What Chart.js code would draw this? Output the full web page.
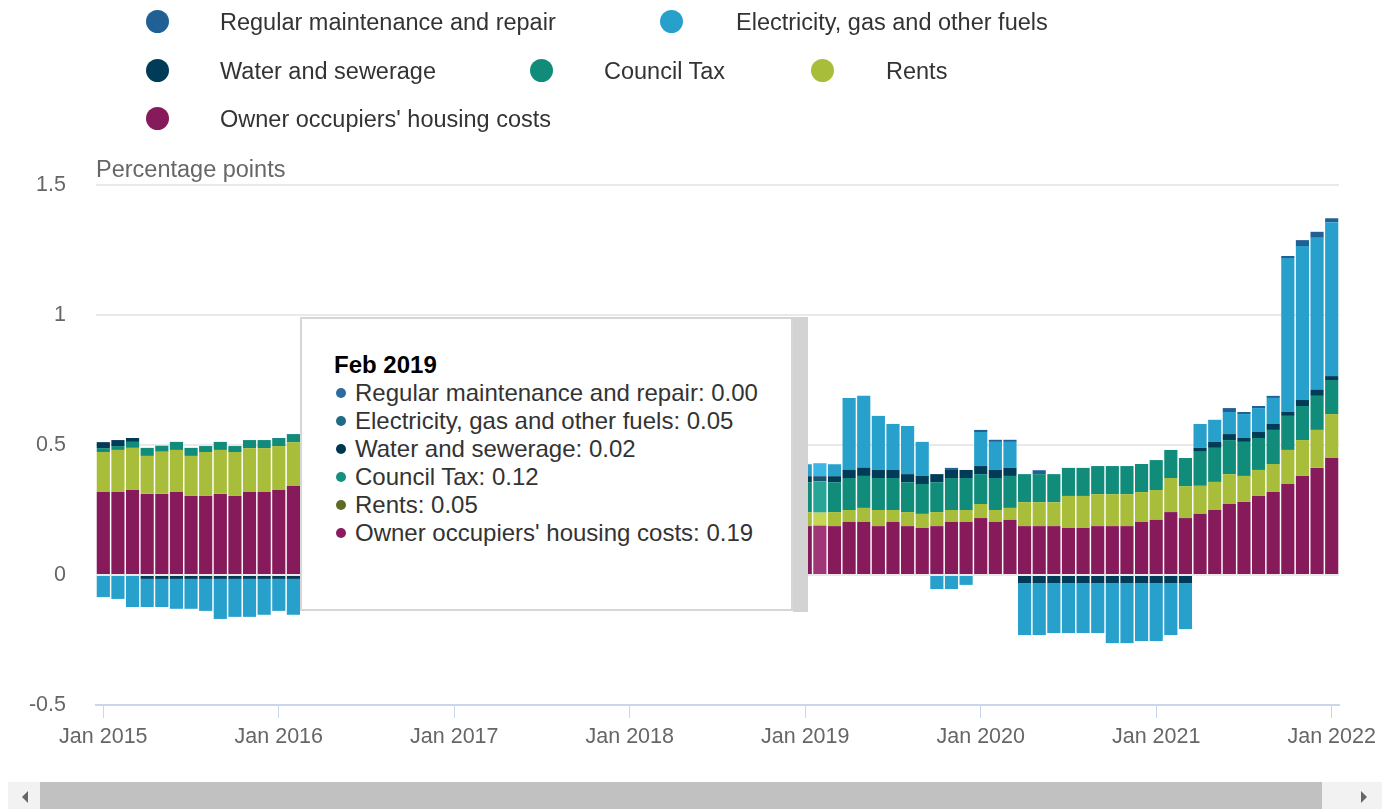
<!DOCTYPE html>
<html lang="en">
<head>
<meta charset="UTF-8">
<title>Contributions to CPIH housing</title>
<script src="https://cdn.jsdelivr.net/npm/chart.js"></script>
<style>
  body { margin: 0; background: #fff; font-family: "Liberation Sans", Arial, sans-serif; }
  #wrap { position: relative; width: 1395px; height: 810px; overflow: hidden; }
  #box { position: absolute; left: 0; top: 0; width: 1395px; height: 780px; }
  .leg { position: absolute; height: 30px; line-height: 30px; font-size: 23.5px; color: #333; white-space: nowrap; }
  #tip { position: absolute; left: 300px; top: 317px; width: 489px; height: 290px; background: #fff;
         border: 2px solid #d6d6d6; padding: 0; box-sizing: content-box; }
  #tipShade { position: absolute; left: 793px; top: 317px; width: 15px; height: 295px; background: #d3d3d4; }
  #tipText { position: absolute; left: 32px; top: 32px; font-size: 24px; line-height: 28px; color: #333; white-space: nowrap; }
  #tipText b { color: #000; }
  .dot { display: inline-block; width: 10px; height: 10px; border-radius: 5px; margin: 0 9px 0 2px; vertical-align: middle; position: relative; top: -2px; }
  #track { position: absolute; left: 8px; top: 782px; width: 1374px; height: 27px; background: #f2f2f2; }
  #thumb { position: absolute; left: 40px; top: 782px; width: 1282px; height: 27px; background: #c1c1c1; }
  .arr { position: absolute; top: 791px; width: 0; height: 0; border-top: 6px solid transparent; border-bottom: 6px solid transparent; }
</style>
</head>
<body>
<div id="wrap">
  <div id="box"><canvas id="grafica"></canvas></div>
  <div id="legend"></div>
  <div id="tip"><div id="tipText"></div></div>
  <div id="tipShade"></div>
  <div id="track"></div>
  <div id="thumb"></div>
  <div class="arr" style="left:22px; border-right:6px solid #666;"></div>
  <div class="arr" style="left:1361px; border-left:6px solid #666;"></div>
</div>

<script>
  // months Jan 2015 .. Jan 2022
  const monthNames = ['Jan', 'Feb', 'Mar', 'Apr', 'May', 'Jun', 'Jul', 'Aug', 'Sep', 'Oct', 'Nov', 'Dec'];
  const years = [2015, 2016, 2017, 2018, 2019, 2020, 2021];
  const categories = [];
  years.forEach(y => monthNames.forEach(m => categories.push(m + ' ' + y)));
  categories.push('Jan 2022');

  const yTicks = [-0.5, 0, 0.5, 1, 1.5];

  const owner = [
    0.319, 0.319, 0.327, 0.312, 0.312, 0.319, 0.304, 0.304, 0.312, 0.304, 0.319, 0.319,
    0.327, 0.342, 0.34, 0.34, 0.33, 0.34, 0.33, 0.33, 0.32, 0.32, 0.33, 0.32,
    0.31, 0.30, 0.30, 0.29, 0.28, 0.28, 0.27, 0.27, 0.26, 0.26, 0.25, 0.25,
    0.24, 0.23, 0.23, 0.22, 0.22, 0.21, 0.21, 0.21, 0.20, 0.20, 0.19, 0.19,
    0.188, 0.19, 0.188, 0.204, 0.204, 0.188, 0.204, 0.188, 0.181, 0.188, 0.204, 0.204,
    0.219, 0.204, 0.212, 0.188, 0.188, 0.188, 0.181, 0.181, 0.188, 0.188, 0.188, 0.204,
    0.212, 0.242, 0.219, 0.235, 0.25, 0.273, 0.281, 0.304, 0.319, 0.35, 0.381, 0.412,
    0.45
  ];
  const rents = [
    0.154, 0.162, 0.162, 0.146, 0.162, 0.162, 0.154, 0.169, 0.169, 0.169, 0.169, 0.169,
    0.169, 0.169, 0.17, 0.17, 0.16, 0.16, 0.16, 0.15, 0.15, 0.15, 0.14, 0.14,
    0.13, 0.13, 0.12, 0.12, 0.11, 0.11, 0.10, 0.10, 0.10, 0.09, 0.09, 0.08,
    0.08, 0.07, 0.07, 0.07, 0.06, 0.06, 0.06, 0.06, 0.05, 0.05, 0.05, 0.05,
    0.054, 0.05, 0.054, 0.046, 0.054, 0.062, 0.046, 0.054, 0.054, 0.054, 0.046, 0.046,
    0.054, 0.046, 0.046, 0.092, 0.092, 0.092, 0.123, 0.123, 0.123, 0.123, 0.123, 0.115,
    0.115, 0.131, 0.123, 0.108, 0.108, 0.115, 0.10, 0.10, 0.108, 0.131, 0.138, 0.146,
    0.169
  ];
  const councilTax = [
    0.015, 0.015, 0.023, 0.031, 0.023, 0.031, 0.031, 0.023, 0.031, 0.023, 0.031, 0.031,
    0.031, 0.031, 0.03, 0.06, 0.06, 0.06, 0.06, 0.06, 0.06, 0.06, 0.06, 0.06,
    0.06, 0.06, 0.06, 0.08, 0.08, 0.08, 0.08, 0.08, 0.08, 0.08, 0.08, 0.08,
    0.08, 0.08, 0.08, 0.11, 0.11, 0.11, 0.11, 0.11, 0.11, 0.11, 0.11, 0.11,
    0.115, 0.12, 0.115, 0.123, 0.123, 0.123, 0.123, 0.115, 0.115, 0.115, 0.123, 0.123,
    0.115, 0.123, 0.123, 0.108, 0.108, 0.108, 0.108, 0.108, 0.108, 0.108, 0.108, 0.108,
    0.115, 0.108, 0.108, 0.131, 0.131, 0.131, 0.131, 0.123, 0.131, 0.131, 0.131, 0.131,
    0.131
  ];
  const water = [
    0.023, 0.023, 0.015, -0.015, -0.015, -0.015, -0.015, -0.015, -0.015, -0.015, -0.015, -0.015,
    -0.015, -0.015, -0.015, -0.01, -0.01, -0.01, -0.01, -0.01, -0.01, -0.01, -0.01, -0.01,
    -0.01, -0.01, -0.01, 0.01, 0.01, 0.01, 0.01, 0.01, 0.01, 0.01, 0.01, 0.01,
    0.01, 0.01, 0.01, 0.02, 0.02, 0.02, 0.02, 0.02, 0.02, 0.02, 0.02, 0.02,
    0.023, 0.02, 0.023, 0.031, 0.031, 0.031, 0.031, 0.031, 0.031, 0.031, 0.031, 0.031,
    0.031, 0.031, 0.031, -0.031, -0.031, -0.031, -0.031, -0.031, -0.031, -0.031, -0.031, -0.031,
    -0.031, -0.031, -0.031, 0.015, 0.023, 0.023, 0.015, 0.023, 0.023, 0.015, 0.023, 0.023,
    0.015
  ];
  const electricity = [
    -0.085, -0.092, -0.123, -0.108, -0.108, -0.115, -0.115, -0.123, -0.154, -0.146, -0.146, -0.138,
    -0.123, -0.138, -0.11, -0.11, -0.11, -0.10, -0.10, -0.09, -0.08, -0.07, -0.06, -0.05,
    -0.03, -0.01, 0.02, 0.05, 0.07, 0.08, 0.08, 0.09, 0.09, 0.12, 0.13, 0.13,
    0.12, 0.12, 0.13, 0.15, 0.17, 0.18, 0.17, 0.18, 0.18, 0.17, 0.16, 0.16,
    0.046, 0.05, 0.046, 0.277, 0.277, 0.208, 0.177, 0.185, 0.131, -0.054, -0.054, -0.038,
    0.131, 0.108, 0.10, -0.20, -0.20, -0.192, -0.192, -0.192, -0.192, -0.231, -0.231, -0.223,
    -0.223, -0.20, -0.177, 0.092, 0.085, 0.085, 0.092, 0.092, 0.10, 0.592, 0.592, 0.585,
    0.592
  ];
  const maintenance = [
    0, 0, 0, 0, 0, 0, 0, 0, 0, 0, 0, 0,
    0, 0, 0, 0, 0, 0, 0, 0, 0, 0, 0, 0,
    0, 0, 0, 0, 0, 0.01, 0, 0, 0, 0, 0, 0,
    0, 0, 0, 0, 0, 0, 0, 0, 0, 0, 0, 0,
    0, 0, 0, 0, 0, 0, 0, 0, 0, 0, 0.008, 0,
    0.008, 0.008, 0.008, 0, 0.015, 0, 0, 0, 0, 0, 0, 0,
    0, 0, 0, 0, 0, 0.015, 0.008, 0.008, 0.008, 0.008, 0.023, 0.023,
    0.015
  ];

  // stacked bottom to top: owner first
  const series = [
    { label: "Owner occupiers' housing costs", data: owner, color: '#871a5b', hover: '#a03577', dot: '#8b1a5e' },
    { label: 'Rents', data: rents, color: '#a8bd3a', hover: '#c4d652', dot: '#5e6b22' },
    { label: 'Council Tax', data: councilTax, color: '#118c7b', hover: '#28a596', dot: '#139080' },
    { label: 'Water and sewerage', data: water, color: '#003c57', hover: '#1a5470', dot: '#00374f' },
    { label: 'Electricity, gas and other fuels', data: electricity, color: '#27a0cc', hover: '#3db6e6', dot: '#1f6b86' },
    { label: 'Regular maintenance and repair', data: maintenance, color: '#206095', hover: '#3577ad', dot: '#2d6a9f' }
  ];

  const hoverIdx = categories.indexOf('Feb 2019');

  // legend (html, same order as reference)
  const legendPos = [
    ['Regular maintenance and repair', 157, 21, 220],
    ['Electricity, gas and other fuels', 671, 21, 736],
    ['Water and sewerage', 157, 70, 220],
    ['Council Tax', 541, 70, 604],
    ['Rents', 822, 70, 886],
    ["Owner occupiers' housing costs", 157, 118, 220]
  ];
  const legend = document.getElementById('legend');
  legendPos.forEach(([name, cx, cy, tx]) => {
    const s = series.find(d => d.label === name);
    legend.innerHTML += `<i style="position:absolute;left:${cx - 11.5}px;top:${cy - 11.5}px;width:23px;height:23px;border-radius:50%;background:${s.color}"></i>` +
      `<div class="leg" style="left:${tx}px;top:${cy - 14}px">${name}</div>`;
  });

  // tooltip text
  const tipOrder = ['Regular maintenance and repair', 'Electricity, gas and other fuels', 'Water and sewerage', 'Council Tax', 'Rents', "Owner occupiers' housing costs"];
  let tipHtml = `<b>${categories[hoverIdx]}</b>`;
  tipOrder.forEach(name => {
    const s = series.find(d => d.label === name);
    tipHtml += `<br><span class="dot" style="background:${s.dot}"></span>${name}: ${s.data[hoverIdx].toFixed(2)}`;
  });
  document.getElementById('tipText').innerHTML = tipHtml;

  const axisTitle = {
    id: 'axisTitle',
    afterDraw(chart) {
      const { ctx, chartArea } = chart;
      ctx.save();
      ctx.font = '23.5px "Liberation Sans", Arial, sans-serif';
      ctx.fillStyle = '#666';
      ctx.textBaseline = 'alphabetic';
      ctx.fillText('Percentage points', chartArea.left, chartArea.top - 8);
      ctx.restore();
    }
  };

  const ctx = document.getElementById('grafica').getContext('2d');
  new Chart(ctx, {
    type: 'bar',
    data: {
      labels: categories,
      datasets: series.map(s => ({
        label: s.label,
        data: s.data,
        backgroundColor: c => c.dataIndex === hoverIdx ? s.hover : s.color,
        borderWidth: 0,
        categoryPercentage: 1,
        barPercentage: 0.9
      }))
    },
    options: {
      responsive: true,
      maintainAspectRatio: false,
      animation: false,
      events: [],
      layout: { padding: { left: 0, right: 56, top: 185, bottom: 0 } },
      plugins: { legend: { display: false }, tooltip: { enabled: false } },
      scales: {
        x: {
          stacked: true,
          afterFit: s => { s.height = 75; },
          border: { color: '#ccd6eb', width: 2 },
          grid: {
            offset: false,
            drawOnChartArea: false,
            tickLength: 13,
            lineWidth: 1,
            color: c => (c.index % 12 === 0 ? '#ccd6eb' : 'rgba(0,0,0,0)')
          },
          ticks: {
            autoSkip: false,
            maxRotation: 0,
            padding: 6,
            color: '#666',
            font: { family: '"Liberation Sans", Arial, sans-serif', size: 21.5 },
            callback: (v, i) => (i % 12 === 0 ? categories[i] : '')
          }
        },
        y: {
          stacked: true,
          min: yTicks[0],
          max: yTicks[yTicks.length - 1],
          afterFit: s => { s.width = 96; },
          afterBuildTicks: s => { s.ticks = yTicks.map(v => ({ value: v })); },
          border: { display: false },
          grid: {
            drawTicks: false,
            lineWidth: 2,
            color: c => (c.tick && c.tick.value === -0.5 ? 'rgba(0,0,0,0)' : '#e9e9e9')
          },
          ticks: {
            padding: 30,
            color: '#666',
            font: { family: '"Liberation Sans", Arial, sans-serif', size: 21.5 },
            callback: v => String(v)
          }
        }
      }
    },
    plugins: [axisTitle]
  });
</script>
</body>
</html>
